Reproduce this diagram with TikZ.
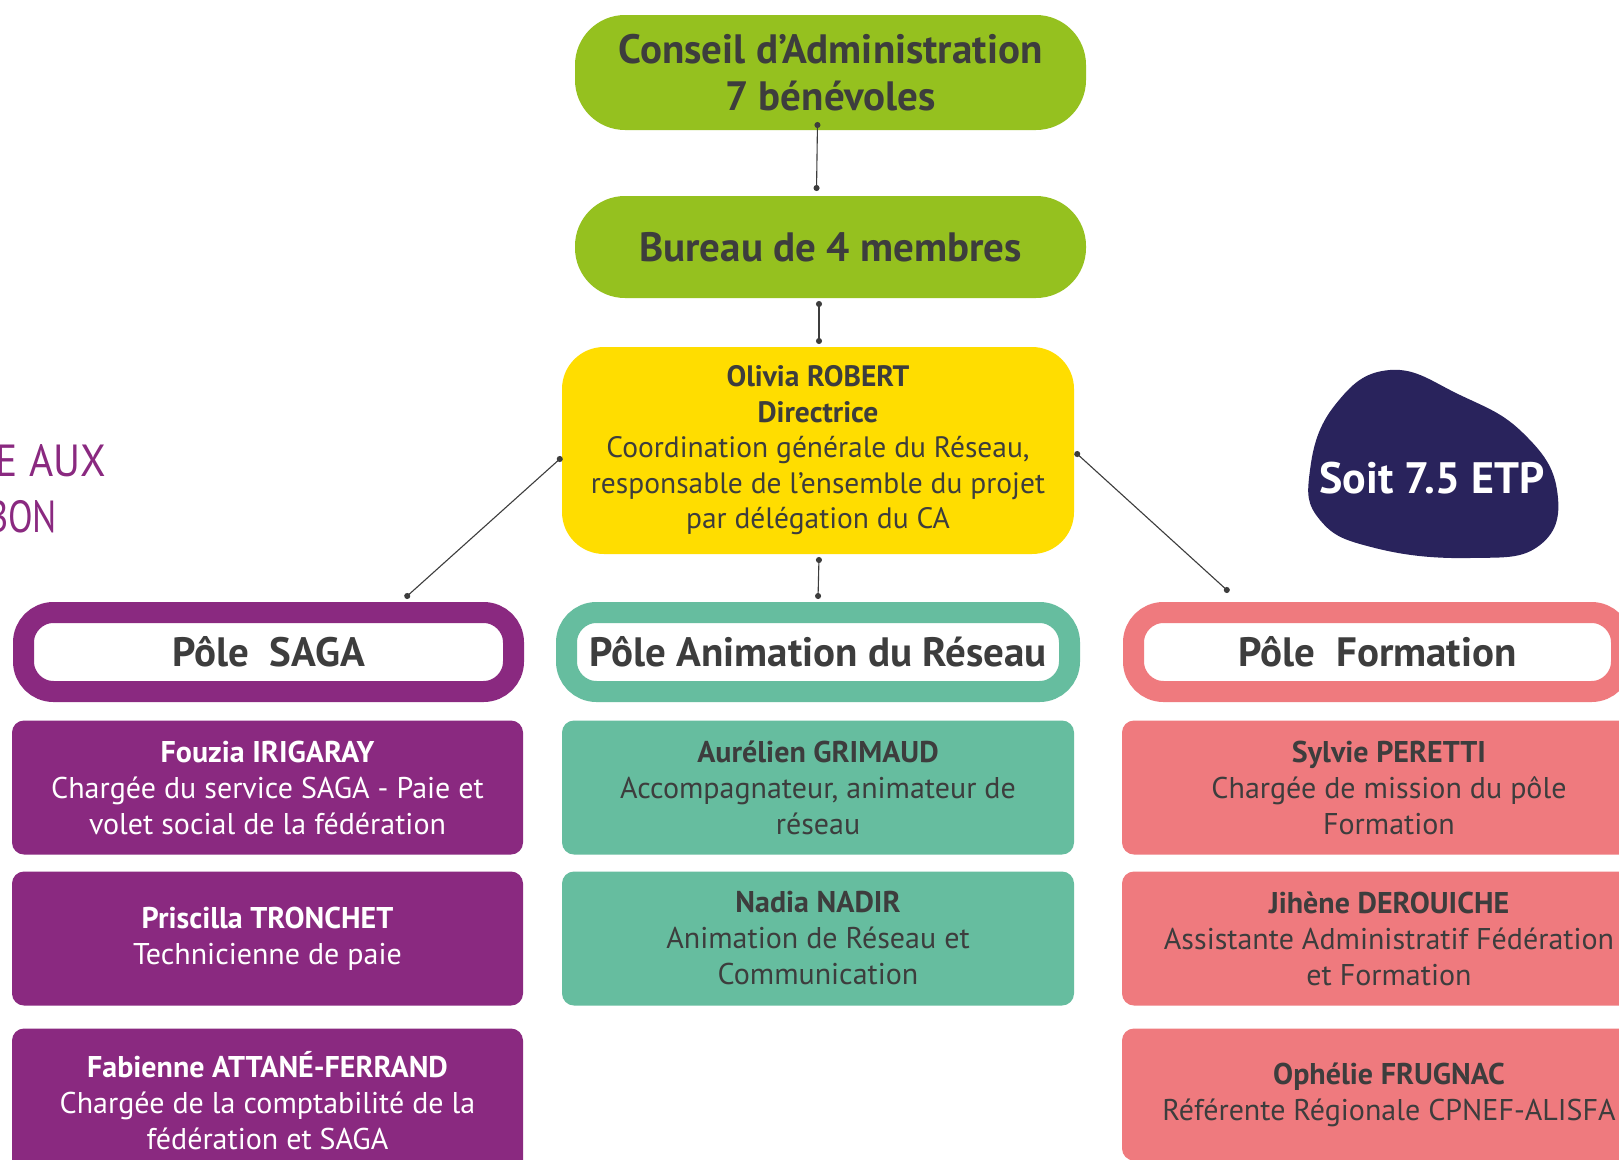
\documentclass[tikz,border=0pt]{standalone}
\usepackage{fontspec}
\setmainfont{PT Sans}
\usetikzlibrary{positioning, arrows.meta}

\definecolor{cagreen}{HTML}{95C11F}
\definecolor{diryellow}{HTML}{FFDD00}
\definecolor{sagapurple}{HTML}{8A2980}
\definecolor{animteal}{HTML}{66BD9F}
\definecolor{formpink}{HTML}{EF7A7E}
\definecolor{etpnavy}{HTML}{29235C}
\definecolor{txtgrey}{HTML}{3D3D3D}

\begin{document}
\begin{tikzpicture}[
    x=1pt, y=-1pt,
    every node/.style={outer sep=0pt, inner sep=0pt, align=center, text=txtgrey},
    topbox/.style={rectangle, rounded corners=50pt, fill=cagreen, minimum width=511pt, font=\fontsize{41}{47}\selectfont\bfseries},
    dirbox/.style={rectangle, rounded corners=42pt, fill=diryellow, minimum width=512pt, minimum height=207pt, font=\fontsize{29.5}{35.5}\selectfont},
    polehead/.style={rectangle, rounded corners=30pt, draw=#1, line width=21pt, fill=white, minimum height=79pt, font=\fontsize{41}{44}\selectfont\bfseries},
    card/.style={rectangle, rounded corners=12pt, fill=#1, minimum height=134pt, font=\fontsize{30}{36}\selectfont},
    handtext/.style={anchor=east, text=sagapurple, font=\fontsize{45}{45}\selectfont},
    link/.style={{Circle[length=6pt]}-{Circle[length=6pt]}, line width=1.1pt, draw=txtgrey}
]
\useasboundingbox (0,0) rectangle (1619,1159);
\clip (0,0) rectangle (1619,1159);
\fill[white] (0,0) rectangle (1619,1159);

% governance
\node[topbox, minimum height=115pt] (ca) at (830.5,72.5) {Conseil d'Administration\\7 bénévoles};
\node[topbox, minimum height=102pt, below=66pt of ca] (bur) {Bureau de 4 membres};
\node[dirbox, below=49pt of bur, xshift=-12.5pt] (dir) {\textbf{Olivia ROBERT}\\\textbf{Directrice}\\Coordination générale du Réseau,\\responsable de l'ensemble du projet\\par délégation du CA};

% poles
\node[polehead=sagapurple, minimum width=490pt] (hsaga) at (268.5,652) {Pôle~ SAGA};
\node[polehead=animteal, minimum width=503pt] (hanim) at (818,652) {Pôle Animation du Réseau};
\node[polehead=formpink, minimum width=488pt] (hform) at (1377.5,652) {Pôle~ Formation};

% pole SAGA
\node[card=sagapurple, text=white, minimum width=511pt, below=29pt of hsaga, xshift=-1pt] (fouzia) {\textbf{Fouzia IRIGARAY}\\Chargée du service SAGA - Paie et\\volet social de la fédération};
\node[card=sagapurple, text=white, minimum width=511pt, below=17pt of fouzia] (priscilla) {\textbf{Priscilla TRONCHET}\\Technicienne de paie};
\node[card=sagapurple, text=white, minimum width=511pt, minimum height=144pt, below=23pt of priscilla] (fabienne) {\textbf{Fabienne ATTANÉ-FERRAND}\\Chargée de la comptabilité de la\\fédération et SAGA};

% pole animation
\node[card=animteal, minimum width=512pt, below=29pt of hanim] (aurelien) {\textbf{Aurélien GRIMAUD}\\Accompagnateur, animateur de\\réseau};
\node[card=animteal, minimum width=512pt, below=17pt of aurelien] (nadia) {\textbf{Nadia NADIR}\\Animation de Réseau et\\Communication};

% pole formation
\node[card=formpink, minimum width=534pt, below=29pt of hform, xshift=11.5pt] (sylvie) {\textbf{Sylvie PERETTI}\\Chargée de mission du pôle\\Formation};
\node[card=formpink, minimum width=534pt, below=17pt of sylvie] (jihene) {\textbf{Jihène DEROUICHE}\\Assistante Administratif Fédération\\et Formation};
\node[card=formpink, minimum width=534pt, minimum height=132pt, below=23pt of jihene] (ophelie) {\textbf{Ophélie FRUGNAC}\\Référente Régionale CPNEF-ALISFA};

% ETP blob
\fill[etpnavy] plot[smooth cycle, tension=0.75] coordinates {(1390,370) (1460,395) (1523,433) (1557,490) (1540,545) (1470,558) (1375,548) (1320,520) (1310,470) (1335,405)};
\node[text=white, font=\fontsize{44}{44}\selectfont\bfseries] (etp) at (1432,478) {Soit 7.5 ETP};

% cut text on the left
\node[handtext] (fraga) at (106,461) {\scalebox{0.92}[1]{E AUX}};
\node[handtext] (fragb) at (57,517) {\scalebox{0.8}[1]{BON}};

% links
\draw[link] ([shift={(-13pt,8pt)}]ca.south) -- ([shift={(-14pt,5pt)}]bur.north);
\draw[link] ([shift={(-11.5pt,-3pt)}]bur.south) -- ([shift={(1pt,3pt)}]dir.north);
\draw[link] ([shift={(1pt,-3pt)}]dir.south) -- ([shift={(0pt,13.5pt)}]hanim.north);
\draw[link] ([shift={(0pt,-6.5pt)}]dir.west) -- ([shift={(136.5pt,14.5pt)}]hsaga.north);
\draw[link] ([shift={(1pt,-1.5pt)}]dir.east) -- ([shift={(-148.5pt,20.5pt)}]hform.north);

\end{tikzpicture}
\end{document}
